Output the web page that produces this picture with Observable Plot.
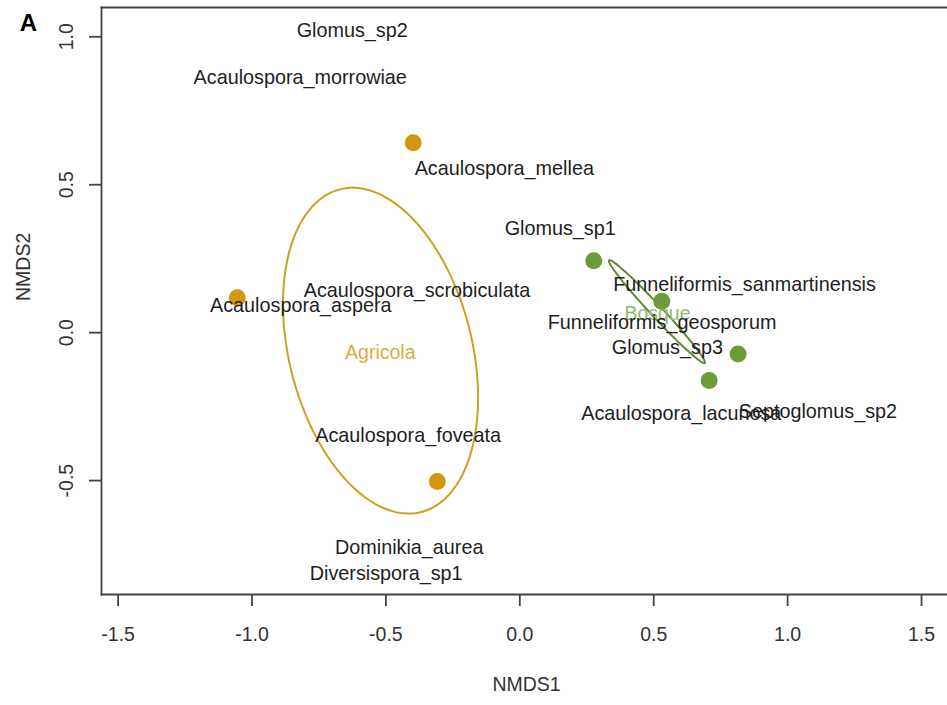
<!DOCTYPE html>
<html><head><meta charset="utf-8">
<script src="https://cdn.jsdelivr.net/npm/d3@7"></script>
<script src="https://cdn.jsdelivr.net/npm/@observablehq/plot@0.6"></script>
<style>body{margin:0;background:#fff}</style>
</head><body><div id="chart"></div>
<script>
// Groups
const groups = ["Agricola", "Bosque"];
const groupColors = ["#D4950F", "#6E9A3A"];
const ellipseColors = ["#C9A227", "#5E8A32"];
const groupLabelColors = ["#D8AE3E", "#93B873"];
const groupLabelX = [-0.521, 0.514];
const groupLabelY = [-0.068, 0.064];

// Site scores
const siteGroup = ["Agricola", "Agricola", "Agricola", "Bosque", "Bosque", "Bosque", "Bosque"];
const siteX = [-0.398, -1.055, -0.308, 0.276, 0.530, 0.815, 0.707];
const siteY = [0.642, 0.118, -0.503, 0.243, 0.106, -0.072, -0.162];

// Ellipse parameters (centre and covariance in NMDS units)
const ellCx = [-0.520, 0.512];
const ellCy = [-0.061, 0.071];
const ellSxx = [0.1327, 0.0322];
const ellSyy = [0.3032, 0.0303];
const ellSxy = [-0.0576, -0.0308];

// Species scores (label positions)
const species = ["Glomus_sp2", "Acaulospora_morrowiae", "Acaulospora_mellea", "Acaulospora_scrobiculata",
  "Acaulospora_aspera", "Acaulospora_foveata", "Dominikia_aurea", "Diversispora_sp1", "Glomus_sp1",
  "Funneliformis_sanmartinensis", "Funneliformis_geosporum", "Glomus_sp3", "Acaulospora_lacunosa", "Septoglomus_sp2"];
const speciesX = [-0.626, -0.820, -0.058, -0.384, -0.818, -0.417, -0.413, -0.499, 0.151, 0.839, 0.531, 0.551, 0.603, 1.113];
const speciesY = [1.020, 0.861, 0.554, 0.142, 0.091, -0.348, -0.726, -0.814, 0.351, 0.162, 0.035, -0.050, -0.274, -0.267];

const xTicks = [-1.5, -1.0, -0.5, 0.0, 0.5, 1.0, 1.5];
const yTicks = [-0.5, 0.0, 0.5, 1.0];
const xDomain = [-1.562, 1.597];
const yDomain = [-0.885, 1.099];

// Build tables
const sites = siteX.map((x, i) => ({x, y: siteY[i], group: siteGroup[i]}));
const speciesData = species.map((name, i) => ({name, x: speciesX[i], y: speciesY[i]}));
const groupLabels = groups.map((g, i) => ({group: g, x: groupLabelX[i], y: groupLabelY[i]}));
const ellipses = [];
groups.forEach((g, i) => {
  const l11 = Math.sqrt(ellSxx[i]);
  const l21 = ellSxy[i] / l11;
  const l22 = Math.sqrt(ellSyy[i] - l21 * l21);
  const n = 120;
  for (let k = 0; k <= n; k++) {
    const t = 2 * Math.PI * k / n;
    ellipses.push({group: g, x: ellCx[i] + l11 * Math.cos(t), y: ellCy[i] + l21 * Math.cos(t) + l22 * Math.sin(t)});
  }
});
const colorOf = (arr) => (d) => arr[groups.indexOf(d.group)];

const fmt = d => d.toFixed(1);

const chart = Plot.plot({
  width: 947,
  height: 705,
  marginLeft: 101,
  marginRight: 0,
  marginTop: 7,
  marginBottom: 111,
  style: {fontFamily: "'Liberation Sans', Arial, sans-serif", fontSize: "19.5px", color: "#2a2a2a", background: "#fff"},
  x: {domain: xDomain},
  y: {domain: yDomain},
  marks: [
    Plot.frame({anchor: "left", stroke: "#444", strokeWidth: 1.8}),
    Plot.frame({anchor: "top", stroke: "#444", strokeWidth: 1.8}),
    Plot.frame({anchor: "bottom", stroke: "#444", strokeWidth: 1.8}),
    Plot.axisX({ticks: xTicks, tickSize: 12, tickPadding: 21, tickFormat: fmt, label: null, stroke: "#444", strokeWidth: 1.8, fontSize: 19.5, fill: "#333"}),
    Plot.axisY({ticks: yTicks, tickSize: 12, tickPadding: 17, tickRotate: -90, tickFormat: fmt, label: null, stroke: "#444", strokeWidth: 1.8, fontSize: 19.5, fill: "#333"}),
    Plot.text(["NMDS1"], {frameAnchor: "bottom", dx: 2, dy: 96, fontSize: 19.5, fill: "#333"}),
    Plot.text(["NMDS2"], {frameAnchor: "left", dx: -78, rotate: -90, fontSize: 19.5, fill: "#333"}),
    Plot.text(["A"], {frameAnchor: "top-left", dx: -73, dy: 16, textAnchor: "middle", lineAnchor: "middle", fontSize: 24, fontWeight: "bold", fill: "#000"}),
    Plot.line(ellipses, {x: "x", y: "y", z: "group", stroke: colorOf(ellipseColors), strokeWidth: 2}),
    Plot.text(groupLabels, {x: "x", y: "y", text: "group", fill: colorOf(groupLabelColors), fontSize: 19.5}),
    Plot.dot(sites, {x: "x", y: "y", r: 8.5, fill: colorOf(groupColors), stroke: "none"}),
    Plot.text(speciesData, {x: "x", y: "y", text: "name", fill: "#1e1e1e", fontSize: 19.8})
  ]
});
document.getElementById("chart").appendChild(chart);
</script>
</body></html>
